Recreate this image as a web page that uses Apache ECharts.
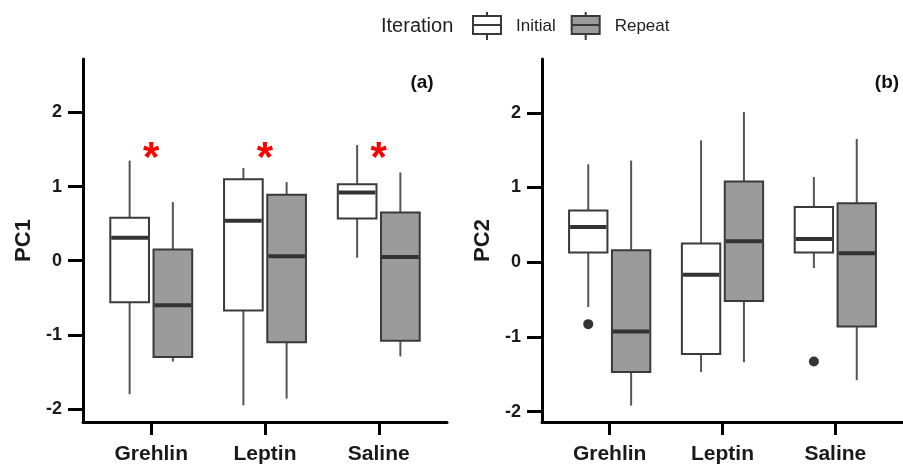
<!DOCTYPE html>
<html>
<head>
<meta charset="utf-8">
<script src="https://cdn.jsdelivr.net/npm/echarts@6/dist/echarts.min.js"></script>
<style>html,body{margin:0;padding:0;background:#fff;}#main{width:903px;height:465px;}</style>
</head>
<body>
<div id="main"></div>
<script>
// ---- data ----
const categories = ['Grehlin', 'Leptin', 'Saline'];
// each entry: [lowWhisker, Q1, median, Q3, highWhisker]
const pc1Initial = [[-1.80, -0.56, 0.31, 0.58, 1.35], [-1.95, -0.67, 0.54, 1.10, 1.25], [0.04, 0.57, 0.92, 1.03, 1.56]];
const pc1Repeat  = [[-1.36, -1.30, -0.60, 0.15, 0.79], [-1.86, -1.10, 0.06, 0.89, 1.06], [-1.29, -1.08, 0.05, 0.65, 1.19]];
const pc2Initial = [[-0.60, 0.13, 0.47, 0.69, 1.31], [-1.47, -1.23, -0.17, 0.25, 1.63], [-0.08, 0.13, 0.31, 0.74, 1.14]];
const pc2Repeat  = [[-1.92, -1.47, -0.93, 0.16, 1.36], [-1.34, -0.52, 0.28, 1.08, 2.01], [-1.58, -0.86, 0.12, 0.79, 1.65]];
const pc2InitialOutliers = [['Grehlin', -0.83], ['Saline', -1.33]];
const pc1Significance = [['Grehlin', 1.49], ['Leptin', 1.49], ['Saline', 1.49]];
const yTicks = [-2, -1, 0, 1, 2];
const seriesNames = ['Initial', 'Repeat'];

// ---- styles ----
const FONT = "'Liberation Sans', Arial, sans-serif";
const OFFSET = 0.19, HALF = 0.17;
const FILL = { Initial: '#ffffff', Repeat: '#9b9b9b' };
const EDGE = '#3a3a3a';

const catPos = name => categories.indexOf(name) + 1;
const toBoxData = arr => arr.map((d, i) => [i + 1].concat(d));

function boxRender(offset, fill) {
  return function (params, api) {
    const x = api.value(0) + offset;
    const lo = api.coord([x, api.value(1)]);
    const q1 = api.coord([x, api.value(2)]);
    const md = api.coord([x, api.value(3)]);
    const q3 = api.coord([x, api.value(4)]);
    const hi = api.coord([x, api.value(5)]);
    const left = api.coord([x - HALF, 0])[0];
    const right = api.coord([x + HALF, 0])[0];
    return {
      type: 'group',
      children: [
        { type: 'line', shape: { x1: lo[0], y1: lo[1], x2: hi[0], y2: hi[1] }, style: { stroke: '#555', lineWidth: 2 } },
        { type: 'rect', shape: { x: left, y: q3[1], width: right - left, height: q1[1] - q3[1] }, style: { fill: fill, stroke: EDGE, lineWidth: 2 } },
        { type: 'line', shape: { x1: left + 1, y1: md[1], x2: right - 1, y2: md[1] }, style: { stroke: '#333', lineWidth: 4 } }
      ]
    };
  };
}

const xAxisBase = {
  type: 'value', min: 0.4, max: 3.6,
  axisLine: { show: true, onZero: false, lineStyle: { color: '#000', width: 3 } },
  axisTick: { show: true, customValues: [1, 2, 3], length: 13, lineStyle: { color: '#000', width: 3 } },
  axisLabel: { customValues: [1, 2, 3], formatter: v => categories[Math.round(v) - 1] || '', fontFamily: FONT, fontWeight: 'bold', fontSize: 21, color: '#1a1a1a', margin: 22 },
  splitLine: { show: false }
};
function yAxisBase(name, min, max) {
  return {
    type: 'value', min: min, max: max, name: name, nameLocation: 'middle', nameGap: 48,
    nameTextStyle: { fontFamily: FONT, fontWeight: 'bold', fontSize: 22, color: '#1a1a1a' },
    axisLine: { show: true, onZero: false, lineStyle: { color: '#000', width: 3 } },
    axisTick: { show: true, customValues: yTicks, length: 15, lineStyle: { color: '#000', width: 3 } },
    axisLabel: { customValues: yTicks, fontFamily: FONT, fontWeight: 'bold', fontSize: 18, color: '#1a1a1a', margin: 21 },
    splitLine: { show: false }
  };
}

const legendIcon = 'path://M14 0 L14 4 M0 4 L28 4 L28 22 L0 22 Z M0 13 L28 13 M14 22 L14 28';

const option = {
  animation: false,
  backgroundColor: '#fff',
  grid: [
    { left: 83, top: 59, width: 364, height: 364 },
    { left: 542, top: 59, width: 364, height: 363 }
  ],
  xAxis: [Object.assign({ gridIndex: 0 }, xAxisBase), Object.assign({ gridIndex: 1 }, xAxisBase)],
  yAxis: [Object.assign({ gridIndex: 0 }, yAxisBase('PC1', -2.175, 2.72)), Object.assign({ gridIndex: 1 }, yAxisBase('PC2', -2.14, 2.72))],
  legend: {
    left: 472, top: 11, padding: 0, itemWidth: 28, itemHeight: 28, itemGap: 15,
    data: [
      { name: 'Initial', icon: legendIcon, itemStyle: { color: FILL.Initial, borderColor: EDGE, borderWidth: 2 } },
      { name: 'Repeat', icon: legendIcon, itemStyle: { color: FILL.Repeat, borderColor: EDGE, borderWidth: 2 } }
    ],
    textStyle: { fontFamily: FONT, fontSize: 17, color: '#222', padding: [0, 0, 0, 10] }
  },
  graphic: [
    { type: 'text', left: 381, top: 16, style: { text: 'Iteration', font: "20px " + FONT, fill: '#222' } },
    { type: 'text', x: 422, y: 83, style: { text: '(a)', font: "bold 19px " + FONT, fill: '#111', align: 'center', verticalAlign: 'middle' } },
    { type: 'text', x: 887, y: 83, style: { text: '(b)', font: "bold 19px " + FONT, fill: '#111', align: 'center', verticalAlign: 'middle' } }
  ],
  series: [
    { name: 'Initial', type: 'custom', xAxisIndex: 0, yAxisIndex: 0, renderItem: boxRender(-OFFSET, FILL.Initial), data: toBoxData(pc1Initial), encode: { x: 0, y: [1, 2, 3, 4, 5] }, itemStyle: { color: FILL.Initial, borderColor: EDGE } },
    { name: 'Repeat', type: 'custom', xAxisIndex: 0, yAxisIndex: 0, renderItem: boxRender(OFFSET, FILL.Repeat), data: toBoxData(pc1Repeat), encode: { x: 0, y: [1, 2, 3, 4, 5] }, itemStyle: { color: FILL.Repeat, borderColor: EDGE } },
    { name: 'Initial', type: 'custom', xAxisIndex: 1, yAxisIndex: 1, renderItem: boxRender(-OFFSET, FILL.Initial), data: toBoxData(pc2Initial), encode: { x: 0, y: [1, 2, 3, 4, 5] }, itemStyle: { color: FILL.Initial, borderColor: EDGE } },
    { name: 'Repeat', type: 'custom', xAxisIndex: 1, yAxisIndex: 1, renderItem: boxRender(OFFSET, FILL.Repeat), data: toBoxData(pc2Repeat), encode: { x: 0, y: [1, 2, 3, 4, 5] }, itemStyle: { color: FILL.Repeat, borderColor: EDGE } },
    {
      name: 'Initial', type: 'custom', xAxisIndex: 1, yAxisIndex: 1,
      data: pc2InitialOutliers.map(d => [catPos(d[0]), d[1]]),
      renderItem: (params, api) => {
        const p = api.coord([api.value(0) - OFFSET, api.value(1)]);
        return { type: 'circle', shape: { cx: p[0], cy: p[1], r: 5 }, style: { fill: '#333' } };
      }
    },
    {
      name: 'sig', type: 'custom', xAxisIndex: 0, yAxisIndex: 0,
      data: pc1Significance.map(d => [catPos(d[0]), d[1]]),
      renderItem: (params, api) => {
        const p = api.coord([api.value(0), api.value(1)]);
        return { type: 'text', x: p[0], y: p[1] + 9, style: { text: '*', fill: '#ff0000', font: "bold 42px " + FONT, align: 'center', verticalAlign: 'middle' } };
      }
    }
  ]
};
echarts.init(document.getElementById('main'), null, { renderer: 'canvas' }).setOption(option);
</script>
</body>
</html>
